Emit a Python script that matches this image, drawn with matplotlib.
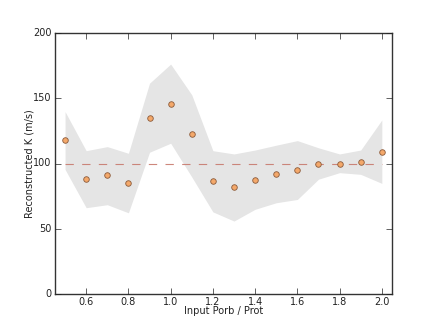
import numpy as np
import matplotlib
matplotlib.use("Agg")
import matplotlib.pyplot as plt

# input Porb / Prot grid
ratio = [0.5, 0.6, 0.7, 0.8, 0.9, 1.0, 1.1, 1.2, 1.3, 1.4, 1.5, 1.6, 1.7, 1.8, 1.9, 2.0]
k_rec = [117.8, 87.9, 91.0, 84.8, 134.6, 145.6, 122.4, 86.4, 81.8, 87.6, 91.7, 95.0, 99.9, 100.0, 101.0, 108.8]
k_hi = [139.7, 109.8, 112.9, 107.8, 161.4, 176.0, 152.5, 109.8, 107.3, 110.3, 114.0, 117.5, 112.0, 107.3, 110.3, 133.3]
k_lo = [95.5, 66.2, 68.5, 62.3, 108.6, 115.5, 89.7, 63.0, 56.0, 65.0, 70.0, 72.5, 88.0, 93.0, 91.7, 84.8]
k_true = 100

plt.style.use('classic')
fig = plt.figure(figsize=(4.36, 3.27), dpi=100)
fig.patch.set_facecolor('white')
ax = fig.add_subplot(1, 1, 1)
fig.subplots_adjust(left=0.125, right=0.9, bottom=0.1, top=0.9)

ax.fill_between(ratio, k_lo, k_hi, color='#e5e5e5', lw=0)
ax.plot([ratio[0], ratio[-1]], [k_true, k_true], '--', color='#c87a6e', lw=0.8, alpha=0.9)
ax.plot(ratio, k_rec, 'o', ms=4, mfc='#f4a86a', mec='#8a5a3a', mew=0.6)

ax.set_xlim([0.45, 2.05])
ax.set_ylim([0, 200])
ax.set_xticks([0.6, 0.8, 1.0, 1.2, 1.4, 1.6, 1.8, 2.0])
ax.set_yticks([0, 50, 100, 150, 200])
ax.tick_params(labelsize=7, length=4, pad=2, colors='#222222')
ax.set_xlabel('Input Porb / Prot', fontsize=7, labelpad=-1, color='#222222')
ax.set_ylabel('Reconstructed K (m/s)', fontsize=7, labelpad=-1, color='#222222')
for s in ax.spines.values():
    s.set_linewidth(1.0)
    s.set_color('#333333')

plt.savefig('out.png', dpi=100, facecolor='white')
